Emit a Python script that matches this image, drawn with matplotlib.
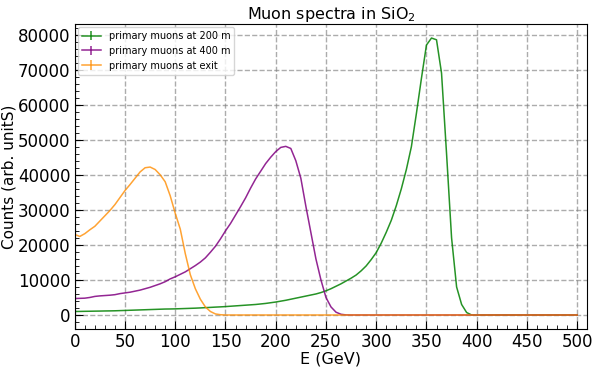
import numpy as np
import matplotlib
matplotlib.use("Agg")
import matplotlib.pyplot as plt
from matplotlib.ticker import AutoMinorLocator

# energy bins (GeV)
energy = np.arange(0, 505, 5)

# primary muons at 200 m
counts_200 = [1000, 1020, 1050, 1070, 1100, 1120, 1150, 1170, 1200, 1250,
              1300, 1350, 1400, 1450, 1500, 1550, 1600, 1650, 1700, 1720,
              1750, 1800, 1850, 1900, 1950, 2020, 2100, 2170, 2250, 2320,
              2400, 2500, 2600, 2700, 2800, 2900, 3000, 3150, 3300, 3500,
              3700, 3950, 4200, 4500, 4800, 5100, 5400, 5700, 6000, 6400,
              6900, 7500, 8200, 8900, 9700, 10500, 11400, 12600, 14000, 15800,
              17800, 20500, 23600, 27000, 31200, 36000, 41500, 48000, 57500, 67500,
              77000, 79000, 78500, 69000, 46000, 22000, 8000, 3000, 700, 0,
              0, 0, 0, 0, 0, 0, 0, 0, 0, 0,
              0, 0, 0, 0, 0, 0, 0, 0, 0, 0,
              0]

# primary muons at 400 m
counts_400 = [4700, 4750, 4800, 5000, 5300, 5450, 5550, 5650, 5800, 6100,
              6300, 6500, 6800, 7100, 7500, 7900, 8400, 8900, 9500, 10300,
              10900, 11600, 12300, 13200, 14100, 15100, 16300, 17900, 19600, 21700,
              24000, 26100, 28500, 30900, 33400, 36200, 38800, 41000, 43200, 45000,
              46600, 47800, 48100, 47500, 44000, 39000, 31000, 23500, 16000, 10000,
              5000, 2300, 800, 200, 30, 0, 0, 0, 0, 0,
              0, 0, 0, 0, 0, 0, 0, 0, 0, 0,
              0, 0, 0, 0, 0, 0, 0, 0, 0, 0,
              0, 0, 0, 0, 0, 0, 0, 0, 0, 0,
              0, 0, 0, 0, 0, 0, 0, 0, 0, 0,
              0]

# primary muons at exit
counts_exit = [23000, 22400, 23200, 24300, 25300, 26800, 28300, 29800, 31500, 33500,
               35500, 37200, 39000, 40800, 42000, 42200, 41500, 40000, 38000, 34000,
               29000, 24500, 17500, 11500, 7500, 4500, 2300, 1000, 300, 80,
               0, 0, 0, 0, 0, 0, 0, 0, 0, 0,
               0, 0, 0, 0, 0, 0, 0, 0, 0, 0,
               0, 0, 0, 0, 0, 0, 0, 0, 0, 0,
               0, 0, 0, 0, 0, 0, 0, 0, 0, 0,
               0, 0, 0, 0, 0, 0, 0, 0, 0, 0,
               0, 0, 0, 0, 0, 0, 0, 0, 0, 0,
               0, 0, 0, 0, 0, 0, 0, 0, 0, 0,
               0]

fig = plt.figure(figsize=(5.98, 3.72), dpi=100)
ax = fig.add_axes([0.125, 0.116, 0.857, 0.819])

ax.errorbar(energy, counts_200, yerr=0, color="green", alpha=0.85, lw=1.1,
            label="primary muons at 200 m")
ax.errorbar(energy, counts_400, yerr=0, color="purple", alpha=0.85, lw=1.1,
            label="primary muons at 400 m")
ax.errorbar(energy, counts_exit, yerr=0, color="darkorange", alpha=0.8, lw=1.1,
            label="primary muons at exit")

ax.set_xlim(0, 510)
ax.set_ylim(-3950, 82950)
ax.set_xticks(np.arange(0, 550, 50))
ax.set_yticks(np.arange(0, 90000, 10000))
ax.xaxis.set_minor_locator(AutoMinorLocator(5))
ax.yaxis.set_minor_locator(AutoMinorLocator(5))
ax.tick_params(which="both", direction="in", labelsize=12, pad=3)
ax.tick_params(which="major", length=6)
ax.tick_params(which="minor", length=3)
ax.grid(True, which="major", linestyle="--", color="gray", alpha=0.65, lw=1)

ax.set_xlabel("E (GeV)", fontsize=11.5, labelpad=0)
ax.set_ylabel("Counts (arb. unitS)", fontsize=11, labelpad=1)
ax.set_title("Muon spectra in SiO$_2$", fontsize=11.5, pad=4)
ax.legend(loc="upper left", fontsize=7, borderaxespad=0.3)

fig.savefig("out.png", dpi=100)
